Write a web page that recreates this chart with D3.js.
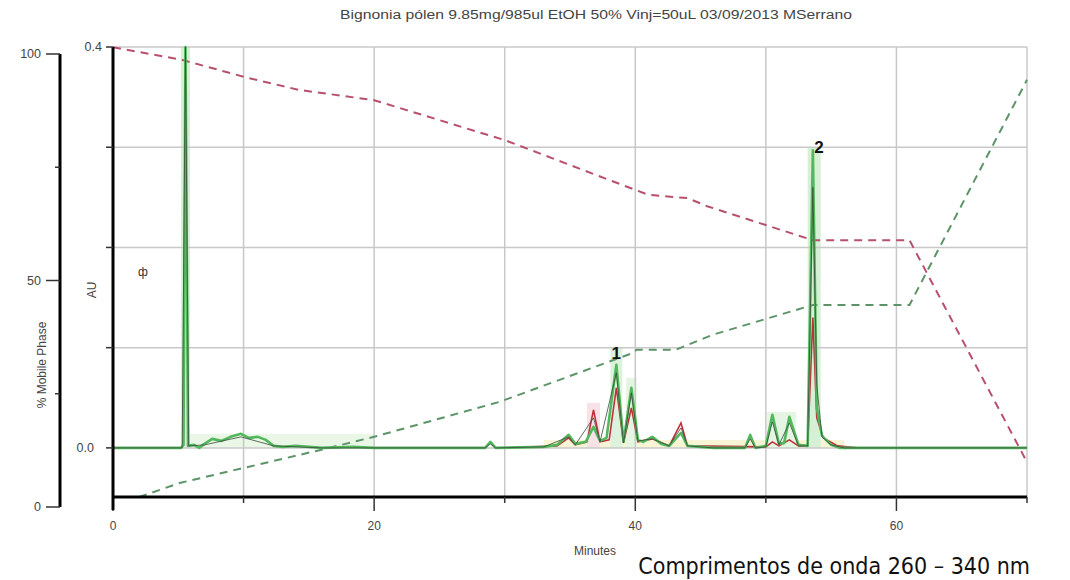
<!DOCTYPE html>
<html>
<head>
<meta charset="utf-8">
<script src="https://cdn.jsdelivr.net/npm/d3@7"></script>
<style>
  body { margin: 0; background: #fff; }
  svg { display: block; }
</style>
</head>
<body>
<script>
// chart data
var titleText = "Bignonia pólen 9.85mg/985ul EtOH 50% Vinj=50uL 03/09/2013 MSerrano";
var captionText = "Comprimentos de onda 260 – 340 nm";

var minuteTicks = [0, 10, 20, 30, 40, 50, 60, 70];
var minuteLabels = [0, 20, 40, 60];
var auTicks = [0, 0.1, 0.2, 0.3, 0.4];
var auLabels = [0, 0.4];
var phaseTicks = [0, 25, 50, 75, 100];
var phaseLabels = [0, 50, 100];

// gradient, % mobile phase (two solvents)
var solventATime = [0, 5.3, 10.1, 14.2, 20, 30, 38, 41, 44, 45.5, 53.6, 61, 70];
var solventAPct  = [101.5, 98.7, 94.9, 92.1, 89.8, 81, 72.2, 68.9, 68.2, 66.4, 58.9, 58.9, 9.9];
var solventBTime = [2, 5.1, 15.9, 20, 29.6, 39.8, 40.1, 43.1, 45.9, 53.6, 61, 70];
var solventBPct  = [2.2, 5.3, 12.6, 15.5, 23.2, 34, 34.7, 34.7, 38, 44.6, 44.6, 94.3];

// chromatogram traces (AU)
var greenTime = [0, 5.2, 5.4, 5.55, 5.75, 6.2, 6.6, 7.0, 7.6, 8.3, 9.0, 9.8, 10.4, 11.1, 11.7, 12.3, 13, 14, 15, 16, 18.4, 20, 28.5, 28.9, 29.3, 33, 34, 34.9, 35.4, 36.2, 36.8, 37.3, 37.8, 38.55, 39.1, 39.7, 40.2, 40.6, 41.3, 42, 42.6, 43.5, 44, 46, 48.4, 48.8, 49.2, 50, 50.5, 51, 51.4, 51.8, 52.5, 53.2, 53.6, 53.9, 54.3, 55, 55.7, 70];
var greenAU   = [0, 0, 0.003, 0.4, 0.002, 0.003, 0, 0.004, 0.009, 0.007, 0.011, 0.014, 0.01, 0.011, 0.008, 0.002, 0.001, 0.002, 0.001, 0, 0.001, 0, 0, 0.006, 0, 0.001, 0.003, 0.013, 0.004, 0.006, 0.021, 0.007, 0.01, 0.083, 0.006, 0.06, 0.008, 0.006, 0.011, 0.004, 0.002, 0.015, 0.002, 0, 0, 0.013, 0, 0.002, 0.033, 0.004, 0.005, 0.031, 0.003, 0.002, 0.297, 0.04, 0.012, 0.003, 0, 0];

var redTime = [30, 34, 34.9, 35.4, 36.3, 36.8, 37.3, 38.0, 38.55, 39.1, 39.7, 40.2, 41.3, 42.6, 43.5, 44, 50, 50.5, 51, 51.8, 52.5, 53.2, 53.6, 53.9, 54.4, 55.5, 57];
var redAU   = [0, 0.002, 0.01, 0.003, 0.006, 0.038, 0.006, 0.008, 0.06, 0.005, 0.04, 0.006, 0.009, 0.002, 0.025, 0.002, 0.001, 0.006, 0.002, 0.008, 0.002, 0.002, 0.13, 0.03, 0.01, 0.002, 0];

var darkTime = [0, 5.3, 5.55, 5.8, 7, 9.8, 12.3, 16, 20, 28.5, 28.9, 29.3, 33, 34.9, 35.4, 36.8, 37.3, 38.55, 39.1, 39.7, 40.2, 41.3, 42.6, 43.5, 44, 46, 48.4, 48.8, 49.2, 50, 50.5, 51, 51.8, 52.5, 53.2, 53.6, 53.9, 54.3, 55, 56, 70];
var darkAU   = [0, 0, 0.4, 0.002, 0.003, 0.011, 0.002, 0, 0, 0, 0.004, 0, 0.001, 0.011, 0.003, 0.03, 0.006, 0.075, 0.005, 0.055, 0.007, 0.009, 0.002, 0.02, 0.002, 0, 0, 0.009, 0, 0.001, 0.026, 0.003, 0.025, 0.002, 0.002, 0.26, 0.063, 0.011, 0.003, 0, 0];

// integration windows shown as pale bands: start, end, top (AU)
var bandStart = [5.2, 5.9, 33, 36.3, 38.1, 39.3, 50.1, 53.2];
var bandEnd   = [5.9, 20, 56, 37.3, 39.0, 40.1, 52.3, 54.2];
var bandTop   = [0.4, 0.014, 0.008, 0.045, 0.1, 0.07, 0.036, 0.3];
var bandColor = ["#d6f0d6", "#eaf7e6", "#f8f5d6", "#f9e1e8", "#dcf2dc", "#e4f5e2", "#e4f5e2", "#d6f0d6"];

var peakNames = ["1", "2"];
var peakTime = [38.55, 53.6];
var peakAU = [0.083, 0.297];

var width = 1070, height = 580;

var svg = d3.select("body").append("svg")
    .attr("width", width)
    .attr("height", height)
    .style("font-family", "Liberation Sans, Arial, sans-serif");

var x = d3.scaleLinear().domain([0, 70]).range([113, 1027]);
var y = d3.scaleLinear().domain([-0.049, 0.4]).range([497, 47]);
var yPhase = d3.scaleLinear().domain([0, 100]).range([507, 54]);

// pale bands
svg.append("g").selectAll("rect")
    .data(bandStart)
    .enter().append("rect")
    .attr("x", function(d) { return x(d); })
    .attr("y", function(d, i) { return y(bandTop[i]); })
    .attr("width", function(d, i) { return x(bandEnd[i]) - x(d); })
    .attr("height", function(d, i) { return y(0) - y(bandTop[i]); })
    .attr("fill", function(d, i) { return bandColor[i]; });

// grid
var grid = svg.append("g").attr("stroke", "#c8c8c8").attr("stroke-width", 1.5);
grid.selectAll(".gx")
    .data(minuteTicks.filter(function(d) { return d > 0; }))
    .enter().append("line")
    .attr("x1", function(d) { return x(d); })
    .attr("x2", function(d) { return x(d); })
    .attr("y1", y(0.4))
    .attr("y2", y.range()[0]);
grid.selectAll(".gy")
    .data(auTicks)
    .enter().append("line")
    .attr("x1", x(0))
    .attr("x2", x(70))
    .attr("y1", function(d) { return y(d); })
    .attr("y2", function(d) { return y(d); });

// gradient dashed lines
var phaseLine = d3.line()
    .x(function(d) { return x(d[0]); })
    .y(function(d) { return yPhase(d[1]); });

svg.append("path")
    .datum(d3.zip(solventATime, solventAPct))
    .attr("d", phaseLine)
    .attr("fill", "none")
    .attr("stroke", "#b8506c")
    .attr("stroke-width", 2)
    .attr("stroke-dasharray", "8,6");

svg.append("path")
    .datum(d3.zip(solventBTime, solventBPct))
    .attr("d", phaseLine)
    .attr("fill", "none")
    .attr("stroke", "#5c9468")
    .attr("stroke-width", 2)
    .attr("stroke-dasharray", "8,6");

// chromatograms
var trace = d3.line()
    .x(function(d) { return x(d[0]); })
    .y(function(d) { return y(d[1]); });

svg.append("path")
    .datum(d3.zip(redTime, redAU))
    .attr("d", trace)
    .attr("fill", "none")
    .attr("stroke", "#c0303a")
    .attr("stroke-width", 1.6);

svg.append("path")
    .datum(d3.zip(greenTime, greenAU))
    .attr("d", trace)
    .attr("fill", "none")
    .attr("stroke", "#52b85c")
    .attr("stroke-width", 2.6)
    .attr("stroke-linejoin", "round");

svg.append("path")
    .datum(d3.zip(darkTime, darkAU))
    .attr("d", trace)
    .attr("fill", "none")
    .attr("stroke", "#3a4a3c")
    .attr("stroke-width", 1)
    .attr("opacity", 0.8);

// peak labels
svg.selectAll(".peak")
    .data(peakNames)
    .enter().append("text")
    .attr("x", function(d, i) { return x(peakTime[i]) + (i == 1 ? 6 : 0); })
    .attr("y", function(d, i) { return y(peakAU[i]) + (i == 1 ? 3 : -6); })
    .attr("text-anchor", "middle")
    .attr("font-size", "17px")
    .attr("font-weight", "bold")
    .attr("fill", "#111")
    .text(function(d) { return d; });

// axes
var xAxis = svg.append("g");
xAxis.append("line")
    .attr("x1", x(0) - 1).attr("x2", x(70))
    .attr("y1", 497).attr("y2", 497)
    .attr("stroke", "#000").attr("stroke-width", 3);
xAxis.selectAll(".xt")
    .data(minuteTicks)
    .enter().append("line")
    .attr("x1", function(d) { return x(d); })
    .attr("x2", function(d) { return x(d); })
    .attr("y1", 497)
    .attr("y2", function(d) { return minuteLabels.indexOf(d) >= 0 ? 511 : 503; })
    .attr("stroke", "#333").attr("stroke-width", 1.5);
xAxis.selectAll(".xl")
    .data(minuteLabels)
    .enter().append("text")
    .attr("x", function(d) { return x(d); })
    .attr("y", 530)
    .attr("text-anchor", "middle")
    .attr("font-size", "12px")
    .attr("fill", "#444")
    .text(function(d) { return d; });
svg.append("text")
    .attr("x", 595).attr("y", 555)
    .attr("text-anchor", "middle")
    .attr("font-size", "12px")
    .attr("fill", "#444")
    .text("Minutes");

var auAxis = svg.append("g");
auAxis.append("line")
    .attr("x1", x(0)).attr("x2", x(0))
    .attr("y1", y(0.4)).attr("y2", 510)
    .attr("stroke", "#000").attr("stroke-width", 3);
auAxis.selectAll(".yt")
    .data(auTicks)
    .enter().append("line")
    .attr("x1", x(0) - 7).attr("x2", x(0))
    .attr("y1", function(d) { return y(d); })
    .attr("y2", function(d) { return y(d); })
    .attr("stroke", "#333").attr("stroke-width", 1.5);
auAxis.selectAll(".yl")
    .data(auLabels)
    .enter().append("text")
    .attr("x", function(d) { return d == 0 ? 94 : 102; })
    .attr("y", function(d) { return y(d) + 4; })
    .attr("text-anchor", "end")
    .attr("font-size", "12.5px")
    .attr("fill", "#444")
    .text(function(d) { return d3.format(".1f")(d); });
svg.append("text")
    .attr("transform", "translate(96,290) rotate(-90)")
    .attr("text-anchor", "middle")
    .attr("font-size", "12px")
    .attr("fill", "#444")
    .text("AU");
svg.append("text")
    .attr("x", 143).attr("y", 276)
    .attr("text-anchor", "middle")
    .attr("font-size", "12px")
    .attr("fill", "#333")
    .text("ф");

var phaseAxis = svg.append("g");
phaseAxis.append("line")
    .attr("x1", 60).attr("x2", 60)
    .attr("y1", yPhase(100)).attr("y2", yPhase(0))
    .attr("stroke", "#000").attr("stroke-width", 3);
phaseAxis.selectAll(".pt")
    .data(phaseTicks)
    .enter().append("line")
    .attr("x1", function(d) { return phaseLabels.indexOf(d) >= 0 ? 46 : 55; })
    .attr("x2", 60)
    .attr("y1", function(d) { return yPhase(d); })
    .attr("y2", function(d) { return yPhase(d); })
    .attr("stroke", "#333").attr("stroke-width", 1.5);
phaseAxis.selectAll(".pl")
    .data(phaseLabels)
    .enter().append("text")
    .attr("x", 41)
    .attr("y", function(d) { return yPhase(d) + 4; })
    .attr("text-anchor", "end")
    .attr("font-size", "12.5px")
    .attr("fill", "#444")
    .text(function(d) { return d; });
svg.append("text")
    .attr("transform", "translate(46,365) rotate(-90)")
    .attr("text-anchor", "middle")
    .attr("font-size", "12px")
    .attr("fill", "#444")
    .text("% Mobile Phase");

// title and caption
svg.append("text")
    .attr("x", 596).attr("y", 19)
    .attr("text-anchor", "middle")
    .attr("font-size", "12.5px")
    .attr("textLength", 512)
    .attr("lengthAdjust", "spacingAndGlyphs")
    .attr("fill", "#444")
    .text(titleText);
svg.append("text")
    .attr("x", 1030).attr("y", 574)
    .attr("text-anchor", "end")
    .attr("font-size", "23px")
    .attr("font-family", "DejaVu Sans Condensed, DejaVu Sans, sans-serif")
    .attr("fill", "#111")
    .text(captionText);
</script>
</body>
</html>
